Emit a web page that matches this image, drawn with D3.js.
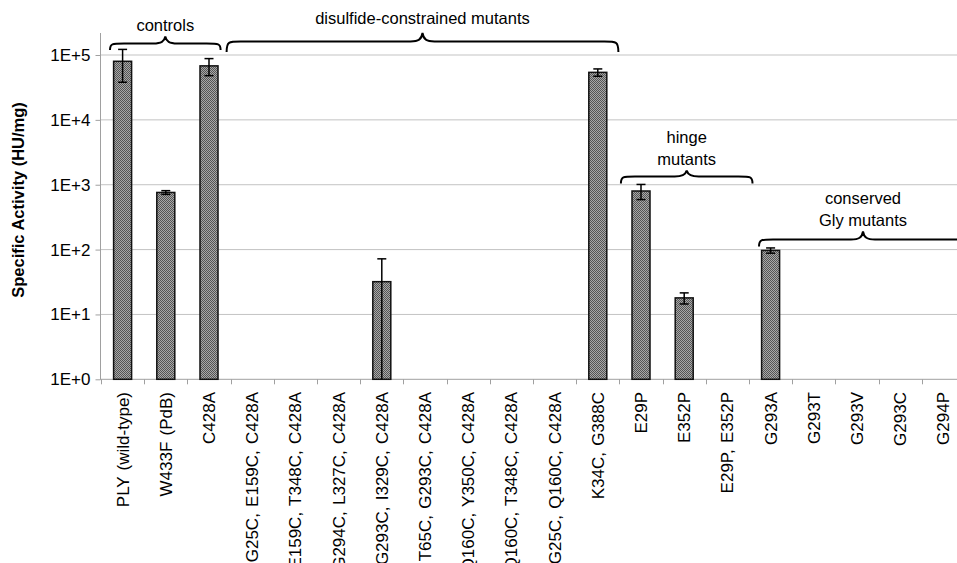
<!DOCTYPE html>
<html>
<head>
<meta charset="utf-8">
<script src="https://cdn.jsdelivr.net/npm/d3@7"></script>
<style>
html,body{margin:0;padding:0;background:#fff;}
svg{display:block;font-family:"Liberation Sans",Arial,sans-serif;}
</style>
</head>
<body>
<svg id="chart" width="957" height="563"></svg>
<script>
// ---- data ----
const categories = [
  "PLY (wild-type)", "W433F (PdB)", "C428A",
  "G25C, E159C, C428A", "E159C, T348C, C428A", "G294C, L327C, C428A",
  "G293C, I329C, C428A", "T65C, G293C, C428A", "Q160C, Y350C, C428A",
  "Q160C, T348C, C428A", "G25C, Q160C, C428A", "K34C, G388C",
  "E29P", "E352P", "E29P, E352P",
  "G293A", "G293T", "G293V", "G293C", "G294P"
];
const activity = [80000, 760, 68000, 1, 1, 1, 32, 1, 1, 1, 1, 54000, 800, 18, 1, 97, 1, 1, 1, 1];
const errors   = [42000, 50, 20000, 0, 0, 0, 40, 0, 0, 0, 0, 7000, 210, 3.5, 0, 9, 0, 0, 0, 0];
const yTicks = [1, 10, 100, 1000, 10000, 100000];
const yTickLabels = ["1E+0", "1E+1", "1E+2", "1E+3", "1E+4", "1E+5"];
const groupNames = [["controls"], ["disulfide-constrained mutants"], ["hinge", "mutants"], ["conserved", "Gly mutants"]];
const groupStart = [0, 3, 12, 15];
const groupEnd   = [2, 11, 14, 19];

// ---- layout ----
const svg = d3.select("#chart");
const x = d3.scaleBand().domain(categories).range([101, 101 + 43.2 * categories.length]).padding(0);
const y = d3.scaleLog().domain([1, 100000]).range([379.3, 55]);

// pattern
const defs = svg.append("defs");
const pat = defs.append("pattern").attr("id", "dots").attr("width", 2).attr("height", 2).attr("patternUnits", "userSpaceOnUse");
pat.append("rect").attr("width", 2).attr("height", 2).attr("fill", "#a8a8a8");
pat.append("rect").attr("width", 1).attr("height", 1).attr("fill", "#555");
pat.append("rect").attr("x", 1).attr("y", 1).attr("width", 1).attr("height", 1).attr("fill", "#555");

// gridlines
svg.append("g").selectAll("line").data(yTicks.slice(1)).join("line")
  .attr("x1", 100).attr("x2", 957)
  .attr("y1", d => y(d)).attr("y2", d => y(d))
  .attr("stroke", "#c3c3c3").attr("stroke-width", 1);

// y axis
const yAxis = d3.axisLeft(y).tickValues(yTicks).tickFormat((d, i) => yTickLabels[i]).tickSize(5).tickSizeOuter(0);
const gy = svg.append("g").attr("transform", "translate(100.5,0)").call(yAxis);
gy.select(".domain").attr("d", `M0,${y(1)}V33`).attr("stroke", "#a0a0a0");
gy.selectAll(".tick line").attr("stroke", "#a0a0a0");
gy.selectAll(".tick text").attr("font-size", 17).attr("fill", "#000").attr("x", -10)
  .attr("font-family", "Liberation Sans, Arial, sans-serif");

// x axis
const xAxis = d3.axisBottom(x).tickSize(0).tickFormat("").tickSizeOuter(0);
const gx = svg.append("g").attr("transform", `translate(0,${y(1)})`).call(xAxis);
gx.select(".domain").attr("d", `M100,0H957`).attr("stroke", "#a0a0a0");
gx.selectAll(".tick").remove();
gx.selectAll("line.bt").data(categories).join("line").attr("class", "bt")
  .attr("x1", d => Math.round(x(d)) + 0.5).attr("x2", d => Math.round(x(d)) + 0.5)
  .attr("y1", 0).attr("y2", 5).attr("stroke", "#a0a0a0");

// category labels
svg.append("g").selectAll("text").data(categories).join("text")
  .attr("transform", d => `translate(${x(d) + x.bandwidth() / 2 + 6},392) rotate(-90)`)
  .attr("text-anchor", "end").attr("font-size", 17).attr("word-spacing", 1.5).attr("fill", "#000")
  .text(d => d);

// bars
const bw = 18;
const data = categories.map((c, i) => ({c, v: activity[i], e: errors[i]}));
svg.append("g").selectAll("rect").data(data).join("rect")
  .attr("x", d => x(d.c) + x.bandwidth() / 2 - bw / 2)
  .attr("width", bw)
  .attr("y", d => y(d.v))
  .attr("height", d => y(1) - y(d.v))
  .attr("fill", "url(#dots)")
  .attr("stroke", d => d.v > 1 ? "#111" : "#999")
  .attr("stroke-width", d => d.v > 1 ? 1.5 : 1);

// error bars
const eb = svg.append("g").selectAll("g").data(data.filter(d => d.e > 0)).join("g")
  .attr("stroke", "#000").attr("stroke-width", 1.5);
const cx = d => x(d.c) + x.bandwidth() / 2;
const lo = d => (d.v - d.e) > 1 ? y(d.v - d.e) : y(1);
eb.append("line").attr("x1", cx).attr("x2", cx).attr("y1", d => y(d.v + d.e)).attr("y2", lo);
eb.append("line").attr("x1", d => cx(d) - 4.5).attr("x2", d => cx(d) + 4.5).attr("y1", d => y(d.v + d.e)).attr("y2", d => y(d.v + d.e));
eb.filter(d => (d.v - d.e) > 1).append("line").attr("x1", d => cx(d) - 4.5).attr("x2", d => cx(d) + 4.5).attr("y1", lo).attr("y2", lo);

// braces
const braceStyle = [
  {o0: 9, o1: -10, bar: 43.5, tip: 36.5, end: 50, t: 31},
  {o0: -4, o1: -1, bar: 41.5, tip: 33, end: 52, t: 24},
  {o0: 1.5, o1: 3.5, bar: 176.5, tip: 170.5, end: 183.5, t: 143},
  {o0: 10, o1: 2, bar: 239.5, tip: 231.5, end: 246.5, t: 204}
];
function bracePath(x0, x1, bar, tip, end) {
  const xm = (x0 + x1) / 2;
  const r = 14, rt = 12;
  return `M${x0},${end} C${x0},${bar} ${x0 + 2},${bar} ${x0 + r},${bar}` +
    ` L${xm - rt},${bar} C${xm - 4},${bar} ${xm - 1},${bar - 2} ${xm},${tip}` +
    ` C${xm + 1},${bar - 2} ${xm + 4},${bar} ${xm + rt},${bar}` +
    ` L${x1 - r},${bar} C${x1 - 2},${bar} ${x1},${bar} ${x1},${end}`;
}
groupNames.forEach((names, i) => {
  const s = braceStyle[i];
  const x0 = x(categories[groupStart[i]]) + s.o0;
  const x1 = x(categories[groupEnd[i]]) + x.bandwidth() + s.o1;
  svg.append("path").attr("d", bracePath(x0, x1, s.bar, s.tip, s.end))
    .attr("fill", "none").attr("stroke", "#000").attr("stroke-width", 2);
  const t = svg.append("text").attr("x", (x0 + x1) / 2).attr("y", s.t).attr("text-anchor", "middle")
    .attr("font-size", 16.5).attr("fill", "#000");
  names.forEach((n, k) => t.append("tspan").attr("x", (x0 + x1) / 2).attr("dy", k === 0 ? 0 : 21.5).text(n));
});

// y title
svg.append("text").attr("transform", "translate(24,200) rotate(-90)")
  .attr("text-anchor", "middle").attr("font-size", 16.5).attr("font-weight", "bold").attr("fill", "#000")
  .text("Specific Activity (HU/mg)");
</script>
</body>
</html>
